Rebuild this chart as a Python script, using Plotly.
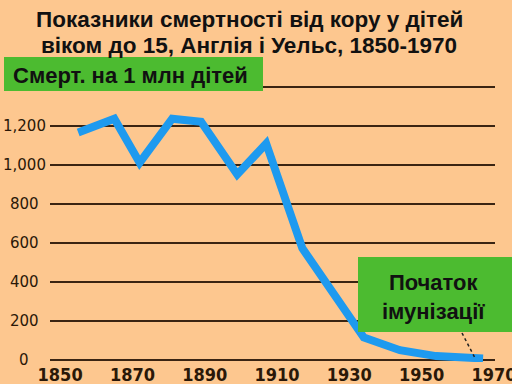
import plotly.graph_objects as go

# Measles deaths per million children under 15, England and Wales
years = [1855, 1865, 1872, 1881, 1889, 1899, 1907, 1917, 1934, 1944, 1954, 1960, 1967]
deaths = [1165, 1235, 1010, 1235, 1220, 950, 1108, 572, 115, 50, 20, 12, 8]

x_ticks = [1850, 1870, 1890, 1910, 1930, 1950, 1970]
y_ticks = [0, 200, 400, 600, 800, 1000, 1200, 1400]

title_lines = ["Показники смертності від кору у дітей",
               "віком до 15, Англія і Уельс, 1850-1970"]
unit_label = "Смерт. на 1 млн дітей"
immunisation_label = "Початок<br>імунізації"

W, H = 512, 384
M_L, M_R, M_T, M_B = 50, 17, 80, 22
PW, PH = W - M_L - M_R, H - M_T - M_B

BG = "#FDC78F"
GREEN = "#4CBB30"
BLUE = "#1E9AEF"
GRID = "#3A2412"
TICK = "#2A1808"


def px(x):
    return (x - M_L) / PW


def py(y):
    return (H - M_B - y) / PH


fig = go.Figure()
fig.add_trace(go.Scatter(
    x=years, y=deaths, mode="lines",
    line=dict(color=BLUE, width=8),
    hoverinfo="skip", showlegend=False,
))

shapes = [
    dict(type="rect", xref="paper", yref="paper",
         x0=px(4), x1=px(263), y0=py(91), y1=py(57),
         fillcolor=GREEN, line=dict(width=0), layer="above"),
    dict(type="rect", xref="paper", yref="paper",
         x0=px(358), x1=px(516), y0=py(332), y1=py(257),
         fillcolor=GREEN, line=dict(width=0), layer="above"),
    dict(type="line", xref="paper", yref="paper",
         x0=px(462), x1=px(475), y0=py(333), y1=py(358),
         line=dict(color="#222222", width=1.5, dash="dot"), layer="above"),
]

title_font = dict(family="Liberation Sans, Arial, sans-serif", size=22.5, color="#111111")
label_font = dict(family="Liberation Sans, Arial, sans-serif", size=22, color="#111111")
annotations = [
    dict(text=f"<b>{title_lines[0]}</b>", x=px(249), y=py(20), xref="paper", yref="paper",
         showarrow=False, font=title_font, xanchor="center", yanchor="middle"),
    dict(text=f"<b>{title_lines[1]}</b>", x=px(249), y=py(46), xref="paper", yref="paper",
         showarrow=False, font=title_font, xanchor="center", yanchor="middle"),
    dict(text=f"<b>{unit_label}</b>", x=px(11), y=py(75), xref="paper", yref="paper",
         showarrow=False, font=label_font, xanchor="left", yanchor="middle"),
    dict(text=f"<b>{immunisation_label}</b>", x=px(433), y=py(297), xref="paper", yref="paper",
         showarrow=False, font=label_font, xanchor="center", yanchor="middle", align="center"),
]

# y tick labels are centred in the left gutter; the 1,400 one sits under the unit box
for v in y_ticks:
    if v >= 1400:
        continue
    annotations.append(dict(
        text=f"{v:,}", x=px(24), y=v, xref="paper", yref="y",
        showarrow=False, xanchor="center", yanchor="middle",
        font=dict(family="DejaVu Sans, sans-serif", size=15, color=TICK),
    ))

fig.update_layout(
    width=W, height=H,
    margin=dict(l=M_L, r=M_R, t=M_T, b=M_B),
    paper_bgcolor=BG, plot_bgcolor=BG,
    shapes=shapes, annotations=annotations,
    xaxis=dict(range=[1847.2, 1970.3], tickvals=x_ticks,
               ticktext=[f"<b>{v}</b>" for v in x_ticks],
               showgrid=False, zeroline=False, showline=False, ticks="",
               automargin=False, ticklabeloverflow="allow",
               tickfont=dict(family="Liberation Sans Narrow, DejaVu Sans Condensed, sans-serif",
                             size=18, color=TICK),
               fixedrange=True),
    yaxis=dict(range=[-10.24, 1433.3], tickvals=y_ticks, showticklabels=False,
               showgrid=True, gridcolor=GRID, gridwidth=2,
               zeroline=True, zerolinecolor=GRID, zerolinewidth=2,
               showline=False, ticks="", automargin=False,
               fixedrange=True),
)

fig.write_html("out.html", config={"displayModeBar": False})
